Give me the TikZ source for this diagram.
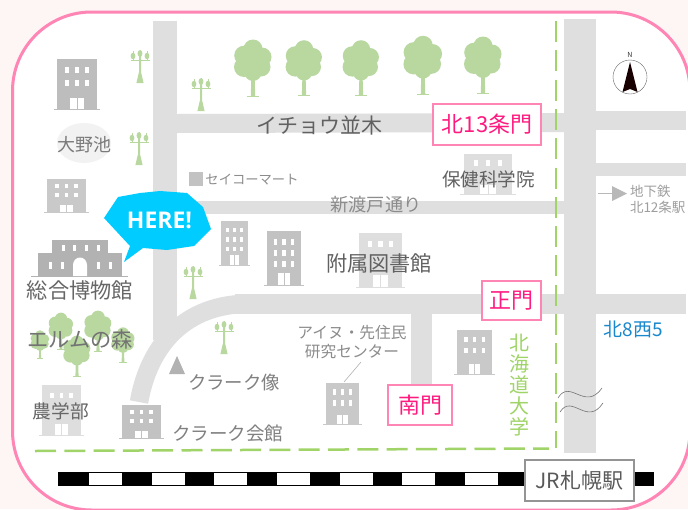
\documentclass[tikz,border=0pt]{standalone}
\usepackage{fontspec}
\setmainfont{Noto Sans CJK JP}
\newfontfamily\herefont{Open Sans}[Scale=1]
\newcommand\fs[1]{\fontsize{#1}{#1}\selectfont}
\definecolor{bgout}{HTML}{FDF6F5}
\definecolor{framepink}{HTML}{FF85B5}
\definecolor{roadgray}{HTML}{DFDFDF}
\definecolor{hokugreen}{HTML}{A0D468}
\definecolor{treegreen}{HTML}{B8D8A0}
\definecolor{gatepink}{HTML}{FF1A80}
\definecolor{herecyan}{HTML}{00CCFF}
\definecolor{kitablue}{HTML}{1A88CC}
\tikzset{
  x=1pt,y=-1pt,
  lbl/.style={inner sep=0pt,outer sep=0pt,text=#1},
  gatebox/.style={draw=framepink,line width=2pt,fill=white,inner sep=0pt,text=gatepink,font=\fs{22},minimum width=#1},
  road/.style={fill=roadgray},
  campus/.style={draw=hokugreen,line width=2.5pt,dash pattern=on 21pt off 8.3pt},
}
% x y W H colour rows rowstep
\newcommand\bldg[7]{%
  \fill[#5] (#1,#2) rectangle ++(#3,#4);
  \fill[#5] (#1-0.08*#3,#2+#4-0.3) rectangle ++(1.16*#3,1);
  \foreach \r in {1,...,#6}{
    \foreach \c in {-1,0,1}{
      \fill[white] ({#1+0.5*#3+\c*0.25*#3-0.05*#3},{#2+0.15*#4+(\r-1)*#7}) rectangle ++({0.1*#3},{0.5*#7});
    }
  }
  \fill[white] ({#1+0.335*#3},{#2+0.78*#4}) rectangle ({#1+0.665*#3},{#2+#4});
  \draw[#5,line width=0.5pt] ({#1+0.5*#3},{#2+0.78*#4}) -- ({#1+0.5*#3},{#2+#4});
}
% cx base scale
\newcommand\treeshape[3]{%
  \begin{scope}[shift={(#1,#2)},scale=#3]
    \fill[treegreen] (-1.6,-22) -- (1.6,-22) -- (2.2,-1) -- (-2.2,-1) -- cycle;
    \fill[treegreen] (-6,-1.3) rectangle (6,0);
    \fill[treegreen] (0,-48) circle (9.5);
    \fill[treegreen] (-9,-41.5) circle (9.8);
    \fill[treegreen] (9,-40) circle (9.5);
    \fill[treegreen] (-9,-30) circle (10);
    \fill[treegreen] (8,-30) circle (9.5);
    \fill[treegreen] (0,-34) circle (14);
    \fill[treegreen] (0,-24.5) circle (8.5);
  \end{scope}
}
% cx base
\newcommand\lampshape[2]{%
  \begin{scope}[shift={(#1,#2)}]
    \fill[treegreen] (-3.6,0) -- (3.6,0) -- (1,-11) -- (1,-28) -- (-1,-28) -- (-1,-11) -- cycle;
    \fill[treegreen] (-9.5,-22.7) rectangle (9.5,-21.7);
    \foreach \s in {-1,1}{
      \fill[treegreen] (\s*7,-27) ellipse (2.4 and 3.2);
      \fill[treegreen] (\s*7-0.4,-32) rectangle (\s*7+0.4,-22);
    }
    \fill[treegreen] (0,-29.5) ellipse (2.4 and 3.4);
    \fill[treegreen] (-0.4,-33) rectangle (0.4,-28);
  \end{scope}
}
\begin{document}
\begin{tikzpicture}
\useasboundingbox (0,0) rectangle (688,509);
\clip (0,0) rectangle (688,509);
\fill[bgout] (0,0) rectangle (688,509);
\draw[framepink,line width=3pt,fill=white,rounded corners=79pt] (12.5,12) rectangle (690,510);

% roads
\fill[road] (153,21) rectangle (177,340);
\fill[road] (177,114) -- (564,113) -- (564,132) -- (177,133) -- cycle;
\fill[road] (596,111) rectangle (686,130);
\fill[road] (177,201) rectangle (564,214);
\fill[road] (596,163) rectangle (686,176);
\fill[road] (564,19) rectangle (596,453);
\fill[road] (235,294) rectangle (686,313.5);
\fill[road] (411,313) rectangle (432,386);
\draw[roadgray,line width=18.5pt] (139,402) .. controls (149,345) and (185,303.7) .. (250,303.7);

% campus border
\draw[campus] (556,21) -- (556,448);
\draw[campus] (35,451) -- (549,448.5);

% pond
\fill[black!5] (84,143) ellipse (27 and 20);

% trees
\treeshape{253}{97}{1}
\treeshape{304}{96}{0.97}
\treeshape{361}{96}{0.97}
\treeshape{423}{95}{1.03}
\treeshape{483}{94}{1}
\treeshape{61}{350}{0.65}
\treeshape{98}{352}{0.72}
\treeshape{40}{359}{0.5}
\treeshape{123}{363}{0.62}
\treeshape{77}{377}{0.72}

% lamps
\lampshape{140}{83}
\lampshape{201}{111}
\lampshape{139}{165}
\lampshape{193}{299}
\lampshape{224}{354}

% buildings
\bldg{57}{59}{40}{50}{black!26}{2}{13}
\bldg{47}{179}{39}{33}{black!21}{2}{9}
\bldg{221}{221}{27}{44}{black!21}{3}{9.5}
\bldg{267}{231}{34}{54}{black!24}{3}{11}
\bldg{359}{233}{43}{54}{black!13}{1}{11}
\bldg{464}{154}{48}{40}{black!13}{1}{11}
\bldg{122}{405}{39}{33}{black!24}{2}{9}
\bldg{42}{385}{39}{50}{black!13}{1}{11}
\bldg{326}{383}{33}{41}{black!21}{2}{11}
\bldg{457}{330}{35}{44}{black!21}{2}{11}

% museum
\fill[black!30] (52,240) rectangle (108,254);
\fill[black!30] (38,253) rectangle (122,276);
\fill[black!30] (31,275.5) rectangle (128,276.5);
\foreach \wx in {63,74,86,98}{\fill[white] (\wx-1.5,245) rectangle ++(3,6);}
\foreach \wx in {50,62,98,110}{\fill[white] (\wx-1.5,262) rectangle ++(3,7);}
\fill[white] (73,276) -- (73,265) arc[start angle=180,end angle=360,x radius=7,y radius=7.5] -- (87,276) -- cycle;

% landmarks
\fill[black!24] (189,172) rectangle (203,186);
\fill[black!30] (177,356) -- (185,374) -- (169,374) -- cycle;

% railway
\fill[black] (58,472) rectangle (654,486);
\foreach \rx in {89,152,214,277,340,402,465}{\fill[white] (\rx,473) rectangle ++(33,12);}

% compass
\draw[black!60,line width=0.4pt] (630,77) circle (17);
\fill[black!90!red] (630,62) -- (637.5,92) -- (630,89) -- (622.5,92) -- cycle;
\node[lbl=black!80,font=\fs{7}] (north) at (630,55) {N};

% wavy lines
\coordinate (wa1) at (558,398);
\coordinate (wa2) at (602,388);
\coordinate (wb1) at (560,412);
\coordinate (wb2) at (603,403);
\draw[black!55,line width=0.6pt] (wa1) .. controls (570,378) and (585,412) .. (wa2);
\draw[black!55,line width=0.6pt] (wb1) .. controls (572,393) and (587,427) .. (wb2);

% subway arrow
\coordinate (sa1) at (598,193.5);
\coordinate (sa2) at (612,193.5);
\draw[black!28,line width=0.8pt] (sa1) -- (sa2);
\fill[black!28] (612,186) -- (627,193.5) -- (612,201) -- cycle;

% leader
\coordinate (ld1) at (361,362);
\coordinate (ld2) at (344,382);
\draw[black!30,line width=0.6pt] (ld1) -- (ld2);

% labels
\node[lbl=black!62,font=\fs{21}] (icho) at (319,126) {イチョウ並木};
\node[lbl=black!45,font=\fs{13.3}] (seico) at (252,180) {セイコーマート};
\node[lbl=black!45,font=\fs{18.2}] (shinw) at (376,205) {新渡戸通り};
\node[lbl=black!62,font=\fs{18.6}] (hoken) at (488.5,179) {保健科学院};
\node[lbl=black!52,font=\fs{18}] (ono) at (84,145) {大野池};
\node[lbl=black!60,font=\fs{21.2}] (soggo) at (80,290.5) {総合博物館};
\node[lbl=black!55,font=\fs{21.2}] (elm) at (80,339.5) {エルムの森};
\node[lbl=black!60,font=\fs{18.7}] (nogaku) at (61,411.5) {農学部};
\node[lbl=black!50,font=\fs{18.4}] (clarks) at (234,383) {クラーク像};
\node[lbl=black!50,font=\fs{18.5}] (clarkh) at (227.5,433) {クラーク会館};
\node[lbl=black!62,font=\fs{21.2}] (fuzoku) at (379,263) {附属図書館};
\node[lbl=black!45,font=\fontsize{15.7}{19}\selectfont,align=center] (ainu) at (352,342) {アイヌ・先住民\\研究センター};
\node[lbl=black!38,font=\fontsize{13.5}{16}\selectfont,align=left,anchor=west] (subway) at (630,199) {地下鉄\\北12条駅};
\node[lbl=hokugreen,font=\fontsize{20}{21}\selectfont,align=center] (hokudai) at (519,385) {北\\海\\道\\大\\学};
\node[lbl=kitablue,font=\fs{19}] (kita8) at (633.5,329) {北8西5};
\node[gatebox=108pt,minimum height=41pt] (g13) at (487,124.5) {北13条門};
\node[gatebox=59pt,minimum height=39pt] (gsei) at (511.5,300.5) {正門};
\node[gatebox=64pt,minimum height=40pt] (gmin) at (420,405) {南門};
\node[draw=black!42,line width=2.5pt,fill=white,inner sep=0pt,minimum width=109pt,minimum height=41pt,text=black!65,font=\fs{21}] (jr) at (579.5,480.5) {JR札幌駅};

% bubble
\fill[herecyan] (104,218) -- (118,197) -- (140,193) -- (160,191) -- (187,193) -- (203,207) -- (211,229) -- (194,246) -- (167,250) -- (143,248) -- (124,262) -- (130,246) -- cycle;
\node[lbl=white,font={\herefont\bfseries\fs{23}}] (here) at (159.5,220) {HERE!};
\end{tikzpicture}
\end{document}
